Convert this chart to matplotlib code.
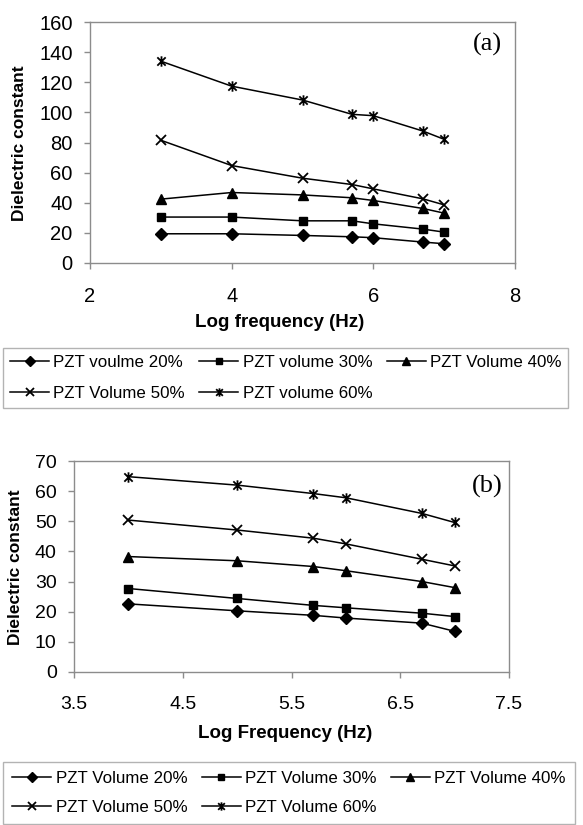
import matplotlib
matplotlib.use("Agg")
import matplotlib.pyplot as plt
from matplotlib.path import Path

plt.rcParams['font.family'] = ['Liberation Sans', 'DejaVu Sans']

# ---------------- data ----------------
freq_a = [3, 4, 5, 5.7, 6, 6.7, 7]
a_20 = [19.4, 19.4, 18.3, 17.4, 16.8, 13.9, 12.8]
a_30 = [30.5, 30.5, 28.0, 28.0, 26.0, 22.5, 20.5]
a_40 = [42.4, 46.8, 45.2, 43.3, 41.5, 36.2, 33.1]
a_50 = [81.5, 64.7, 56.3, 52.1, 49.2, 42.6, 38.6]
a_60 = [134.0, 117.4, 108.2, 98.7, 97.8, 87.6, 82.1]
labels_a = ["PZT voulme 20%", "PZT volume 30%", "PZT Volume 40%",
            "PZT Volume 50%", "PZT volume 60%"]

freq_b = [4, 5, 5.7, 6, 6.7, 7]
b_20 = [22.6, 20.3, 18.8, 17.9, 16.2, 13.5]
b_30 = [27.7, 24.4, 22.1, 21.3, 19.5, 18.4]
b_40 = [38.3, 36.9, 35.0, 33.6, 30.0, 28.0]
b_50 = [50.4, 47.1, 44.4, 42.5, 37.4, 35.2]
b_60 = [64.8, 62.0, 59.2, 57.8, 52.6, 49.6]
labels_b = ["PZT Volume 20%", "PZT Volume 30%", "PZT Volume 40%",
            "PZT Volume 50%", "PZT Volume 60%"]

# Excel-like star marker (x plus vertical bar)
star = Path([(0, -1), (0, 1), (-0.8, -0.8), (0.8, 0.8), (-0.8, 0.8), (0.8, -0.8)],
            [Path.MOVETO, Path.LINETO, Path.MOVETO, Path.LINETO, Path.MOVETO, Path.LINETO])

styles = [
    dict(marker='D', markersize=6.0),
    dict(marker='s', markersize=6.2),
    dict(marker='^', markersize=7.0),
    dict(marker='x', markersize=7.0, markeredgewidth=1.3),
    dict(marker=star, markersize=7.5, markeredgewidth=1.3),
]

W, H = 583, 825
fig = plt.figure(figsize=(W / 100, H / 100), dpi=100)
GRAY = '#8c8c8c'


def frac_x(px):
    return px / W


def frac_y(py):
    return 1 - py / H


def make_panel(rect, freq, series, labels, xlim, xticks, ylim, yticks,
               tick_fs, xlabel, xlabel_pos, ylabel_pos, tag, tag_pos, leg_top,
               leg_pad, leg_space):
    l, t, r, b = rect
    ax = fig.add_axes([frac_x(l), frac_y(b), frac_x(r - l), (b - t) / H])
    handles = []
    for vals, st, lab in zip(series, styles, labels):
        h, = ax.plot(freq, vals, color='black', lw=1.1,
                     markerfacecolor='black', markeredgecolor='black',
                     label=lab, **st)
        handles.append(h)
    ax.set_xlim(*xlim)
    ax.set_ylim(*ylim)
    ax.set_xticks(xticks)
    ax.set_yticks(yticks)
    ax.set_xticklabels([('%g' % v) for v in xticks])
    for s in ax.spines.values():
        s.set_color(GRAY)
        s.set_linewidth(1.0)
    ax.tick_params(axis='both', colors=GRAY, labelcolor='black',
                   labelsize=tick_fs, length=4.5, width=1.0, direction='out')
    ax.tick_params(axis='x', pad=13)
    ax.tick_params(axis='y', pad=8)
    fig.text(frac_x(xlabel_pos[0]), frac_y(xlabel_pos[1]), xlabel,
             fontsize=13.5, fontweight='bold', ha='center', va='center')
    fig.text(frac_x(ylabel_pos[0]), frac_y(ylabel_pos[1]), 'Dielectric constant',
             fontsize=12.5, fontweight='bold', ha='center', va='center',
             rotation=90)
    ax.text(tag_pos[0], tag_pos[1], tag, transform=ax.transAxes,
            family='Liberation Serif', fontsize=19, ha='center', va='center')
    order = [0, 3, 1, 4, 2]
    leg = fig.legend([handles[i] for i in order], [labels[i] for i in order],
                     ncol=3, loc='upper left',
                     bbox_to_anchor=(frac_x(3), frac_y(leg_top)),
                     bbox_transform=fig.transFigure,
                     fontsize=12.2, frameon=True, fancybox=False,
                     edgecolor='#a0a0a0', borderaxespad=0, borderpad=leg_pad,
                     handlelength=2.3, handletextpad=0.25, columnspacing=0.85,
                     labelspacing=leg_space, markerscale=0.8)
    leg.get_frame().set_linewidth(1.0)
    return ax


make_panel((90, 22, 515, 263), freq_a, [a_20, a_30, a_40, a_50, a_60], labels_a,
           (2, 8), [2, 4, 6, 8], (0, 160), list(range(0, 161, 20)), 14.5,
           'Log frequency (Hz)', (280, 322), (20, 143), '(a)', (0.934, 0.905), 348,
           0.42, 0.95)

make_panel((74, 461, 509, 672), freq_b, [b_20, b_30, b_40, b_50, b_60], labels_b,
           (3.5, 7.5), [3.5, 4.5, 5.5, 6.5, 7.5], (0, 70), list(range(0, 71, 10)), 14,
           'Log Frequency (Hz)', (285, 733), (16, 567), '(b)', (0.949, 0.877), 762,
           0.55, 0.8)

fig.savefig('out.png', dpi=100, facecolor='white')
